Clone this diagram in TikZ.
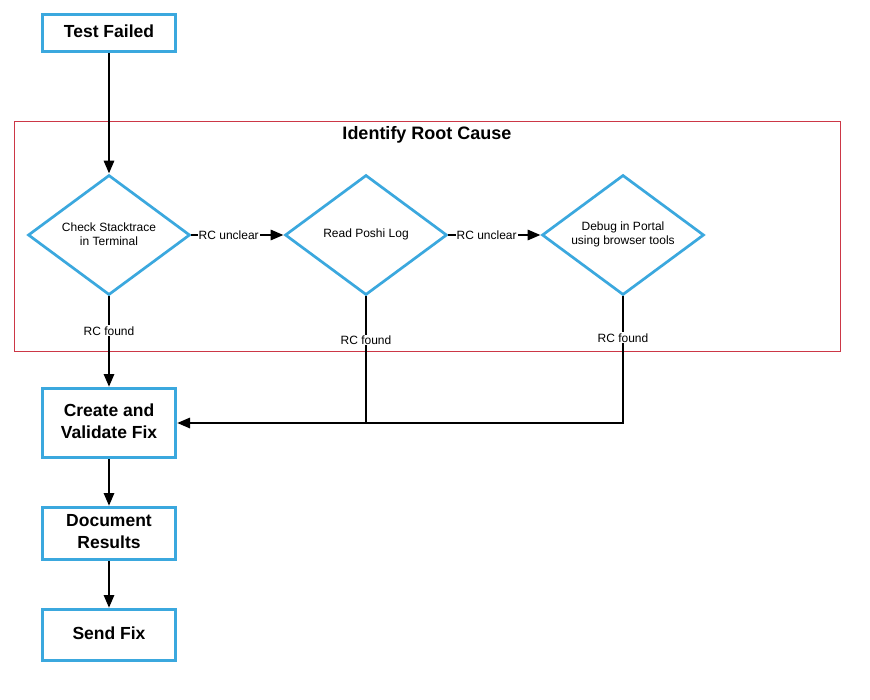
\documentclass[tikz,border=0pt]{standalone}
\usepackage{fontspec}
\setmainfont{Liberation Sans}
\usetikzlibrary{shapes.geometric,arrows.meta}
\definecolor{boxblue}{RGB}{59,168,222}
\definecolor{framered}{RGB}{204,55,70}
\begin{document}
\begin{tikzpicture}[x=1pt,y=-1pt,
  procbox/.style={draw=boxblue,line width=3pt,fill=white,minimum width=133pt,inner sep=0pt},
  boxtext/.style={align=center,font=\bfseries\fontsize{17.5}{22}\selectfont,yshift=2pt},
  decision/.style={diamond,draw=boxblue,line width=2.7pt,fill=white,
    minimum width=162pt,minimum height=120pt,aspect=1.35,inner sep=0pt},
  dectext/.style={align=center,font=\fontsize{12}{14}\selectfont,yshift=1pt},
  conn/.style={draw=black,line width=2.9pt,-{Triangle[length=13pt,width=10pt]}},
  plainconn/.style={draw=black,line width=2.9pt},
  lbl/.style={fill=white,inner sep=1pt,font=\fontsize{12}{14}\selectfont},
  frametitle/.style={font=\bfseries\fontsize{18}{22}\selectfont}
]
\useasboundingbox (0,0) rectangle (870,699);
\fill[white] (0,0) rectangle (870,699);

\node[draw=framered,line width=0.8pt,minimum width=826pt,minimum height=230pt,inner sep=0pt] (frame) at (427,236) {};
\node[frametitle] (title) at (427,135) {Identify Root Cause};

\node[procbox,minimum height=37pt] (tf) at (109,33) {};
\node[boxtext] (tft) at (tf.center) {Test Failed};
\node[decision] (d1) at (109,235) {};
\node[dectext] (d1t) at (d1.center) {Check Stacktrace\\in Terminal};
\node[decision] (d2) at (366,235) {};
\node[dectext] (d2t) at (d2.center) {Read Poshi Log};
\node[decision] (d3) at (623,235) {};
\node[dectext] (d3t) at (d3.center) {Debug in Portal\\using browser tools};
\node[procbox,minimum height=69pt] (cv) at (109,423) {};
\node[boxtext] (cvt) at (cv.center) {Create and\\Validate Fix};
\node[procbox,minimum height=52pt] (doc) at (109,533.5) {};
\node[boxtext] (doct) at (doc.center) {Document\\Results};
\node[procbox,minimum height=51pt] (sf) at (109,635) {};
\node[boxtext] (sft) at (sf.center) {Send Fix};
\coordinate (j) at (366,423);

\draw[conn] (tf) -- (d1);
\draw[conn] (d1) -- node[lbl,pos=0.405]{RC unclear} (d2);
\draw[conn] (d2) -- node[lbl,pos=0.415]{RC unclear} (d3);
\draw[conn] (d1) -- node[lbl,pos=0.38]{RC found} (cv);
\draw[conn] (d2.south) |- node[lbl,pos=0.172]{RC found} (cv.east);
\draw[plainconn] (d3.south) |- node[lbl,pos=0.164]{RC found} (j);
\draw[conn] (cv) -- (doc);
\draw[conn] (doc) -- (sf);
\end{tikzpicture}
\end{document}
